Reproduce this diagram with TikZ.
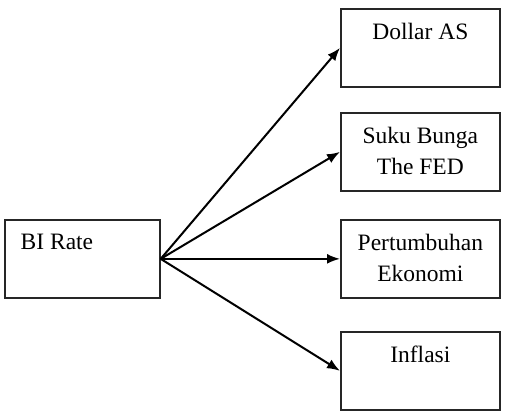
\documentclass[tikz,border=0pt]{standalone}
\usepackage{fontspec}
\setmainfont{Liberation Serif}
\usetikzlibrary{arrows.meta,calc}
\begin{document}
\begin{tikzpicture}[x=1pt,y=-1pt,
  boxnode/.style={draw=black!85,line width=1.7pt,inner sep=0pt,minimum width=159pt,minimum height=78pt},
  txt/.style={inner sep=0pt,font=\fontsize{23.5}{31}\selectfont,align=center,anchor=north},
  arr/.style={line width=2pt,-{Latex[length=13pt,width=10pt]}}]
\useasboundingbox (0,0) rectangle (505,410);
\node[boxnode,minimum width=155pt,anchor=north west] (bi) at (4,219) {};
\node[boxnode,anchor=north west] (dollar) at (340,8) {};
\node[boxnode,anchor=north west] (suku) at (340,112) {};
\node[boxnode,anchor=north west] (tumbuh) at (340,219) {};
\node[boxnode,anchor=north west] (inflasi) at (340,331) {};
\node[txt,anchor=north west] (tbi) at ($(bi.north west)+(16.5,15)$) {BI Rate};
\node[txt] (tdollar) at ($(dollar.north)+(0,15)$) {Dollar AS};
\node[txt] (tsuku) at ($(suku.north)+(0,15)$) {Suku Bunga\\The FED};
\node[txt] (ttumbuh) at ($(tumbuh.north)+(0,15)$) {Pertumbuhan\\Ekonomi};
\node[txt] (tinflasi) at ($(inflasi.north)+(0,15)$) {Inflasi};
\draw[arr] (bi.east) -- (dollar.west);
\draw[arr] (bi.east) -- (suku.west);
\draw[arr] (bi.east) -- (tumbuh.west);
\draw[arr] (bi.east) -- (inflasi.west);
\end{tikzpicture}
\end{document}
